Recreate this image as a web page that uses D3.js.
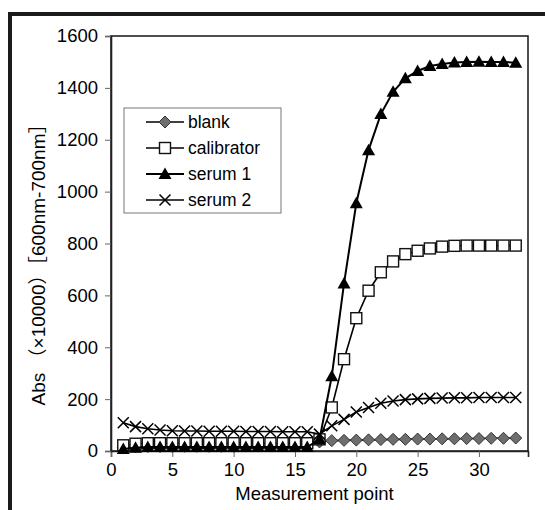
<!DOCTYPE html>
<html>
<head>
<meta charset="utf-8">
<script src="https://cdn.jsdelivr.net/npm/d3@7"></script>
<style>
  body { margin: 0; background: #fff; }
  svg { display: block; }
  text { font-family: "Liberation Sans", Arial, sans-serif; fill: #000; }
</style>
</head>
<body>
<script>
// measurement points 1..33
const points = [1,2,3,4,5,6,7,8,9,10,11,12,13,14,15,16,17,18,19,20,21,22,23,24,25,26,27,28,29,30,31,32,33];
const blank = [15,16,17,17,17,18,18,18,18,18,19,19,19,19,19,20,35,40,41,42,43,44,45,45,46,46,47,47,48,48,49,49,50];
const calibrator = [22,28,30,30,30,30,30,30,30,30,30,30,30,30,30,30,45,168,354,512,618,689,731,759,772,781,788,791,792,792,792,792,792];
const serum1 = [8,13,15,15,15,15,15,15,15,15,15,15,15,15,15,15,45,288,646,955,1160,1299,1385,1437,1465,1484,1492,1498,1500,1501,1500,1500,1497];
const serum2 = [109,94,86,81,78,77,77,76,76,76,75,75,75,74,74,74,65,97,122,150,168,184,193,198,201,203,204,205,205,206,206,206,206];
const seriesNames = ["blank", "calibrator", "serum 1", "serum 2"];
const xTicks = [0,5,10,15,20,25,30];
const yTicks = [0,200,400,600,800,1000,1200,1400,1600];

const width = 545, height = 510;
const m = {left: 111, right: 528, top: 36, bottom: 451};

const svg = d3.select("body").append("svg")
    .attr("width", width)
    .attr("height", height);

// outer frame (left + top only visible)
svg.append("path")
    .attr("d", `M10,${height} L10,14 L${width},14`)
    .attr("fill", "none")
    .attr("stroke", "#1a1a1a")
    .attr("stroke-width", 4);

const x = d3.scaleLinear().domain([0, 34]).range([m.left, m.right]);
const y = d3.scaleLinear().domain([0, 1600]).range([m.bottom, m.top]);

// plot box
svg.append("rect")
    .attr("x", m.left).attr("y", m.top)
    .attr("width", m.right - m.left).attr("height", m.bottom - m.top)
    .attr("fill", "none").attr("stroke", "#222").attr("stroke-width", 1.6);

const xAxis = svg.append("g")
    .attr("transform", `translate(0,${m.bottom})`)
    .call(d3.axisBottom(x).tickValues(xTicks).tickSize(6).tickPadding(6).tickFormat(d3.format("d")));
const yAxis = svg.append("g")
    .attr("transform", `translate(${m.left},0)`)
    .call(d3.axisLeft(y).tickValues(yTicks).tickSize(6).tickPadding(7).tickFormat(d3.format("d")));
[xAxis, yAxis].forEach(g => {
    g.select(".domain").attr("stroke", "#222").attr("stroke-width", 1.6);
    g.selectAll(".tick line").attr("stroke", "#666").attr("stroke-width", 1);
    g.selectAll(".tick text")
        .attr("font-size", "18.5px")
        .attr("font-family", "'Liberation Sans', Arial, sans-serif")
        .attr("fill", "#000");
});

svg.append("text")
    .attr("x", (m.left + m.right) / 2 - 5)
    .attr("y", 500)
    .attr("text-anchor", "middle")
    .attr("font-size", "18.5px")
    .text("Measurement point");

svg.append("text")
    .attr("transform", `translate(45,260) rotate(-90)`)
    .attr("text-anchor", "middle")
    .attr("font-size", "19px")
    .style("font-family", "'Liberation Sans', Arial, 'Noto Sans CJK JP', sans-serif")
    .text("Abs （×10000）［600nm-700nm］");

// marker shapes
const markers = {
    "blank": g => g.append("path").attr("d", "M0,-6L6,0L0,6L-6,0Z")
        .attr("fill", "#6e6e6e").attr("stroke", "#333").attr("stroke-width", 1),
    "calibrator": g => g.append("rect").attr("x", -5.5).attr("y", -5.5).attr("width", 11).attr("height", 11)
        .attr("fill", "#fff").attr("stroke", "#111").attr("stroke-width", 1.4),
    "serum 1": g => g.append("path").attr("d", "M0,-6.5L6.5,5L-6.5,5Z")
        .attr("fill", "#000"),
    "serum 2": g => g.append("path").attr("d", "M-5.5,-5.5L5.5,5.5M-5.5,5.5L5.5,-5.5")
        .attr("fill", "none").attr("stroke", "#000").attr("stroke-width", 1.5)
};

const allSeries = [blank, calibrator, serum1, serum2];
const line = d3.line().x(d => x(d[0])).y(d => y(d[1]));

allSeries.forEach((vals, i) => {
    const name = seriesNames[i];
    const pts = points.map((p, j) => [p, vals[j]]);
    const g = svg.append("g");
    g.append("path")
        .datum(pts)
        .attr("d", line)
        .attr("fill", "none")
        .attr("stroke", "#000")
        .attr("stroke-width", name === "serum 1" ? 2 : 1.6);
    pts.forEach(p => {
        const mg = g.append("g").attr("transform", `translate(${x(p[0])},${y(p[1])})`);
        markers[name](mg);
    });
});

// legend
const legend = svg.append("g").attr("transform", "translate(124,108)");
legend.append("rect")
    .attr("width", 157).attr("height", 105)
    .attr("fill", "#fff").attr("stroke", "#777").attr("stroke-width", 1);
seriesNames.forEach((name, i) => {
    const row = legend.append("g").attr("transform", `translate(0,${14 + i * 26})`);
    row.append("line").attr("x1", 22).attr("x2", 60).attr("y1", 0).attr("y2", 0)
        .attr("stroke", "#000").attr("stroke-width", name === "serum 1" ? 2 : 1.5);
    const mg = row.append("g").attr("transform", "translate(41,0)");
    markers[name](mg);
    row.append("text")
        .attr("x", 64).attr("y", 0)
        .attr("dy", "0.35em")
        .attr("font-size", "17.5px")
        .text(name);
});
</script>
</body>
</html>
